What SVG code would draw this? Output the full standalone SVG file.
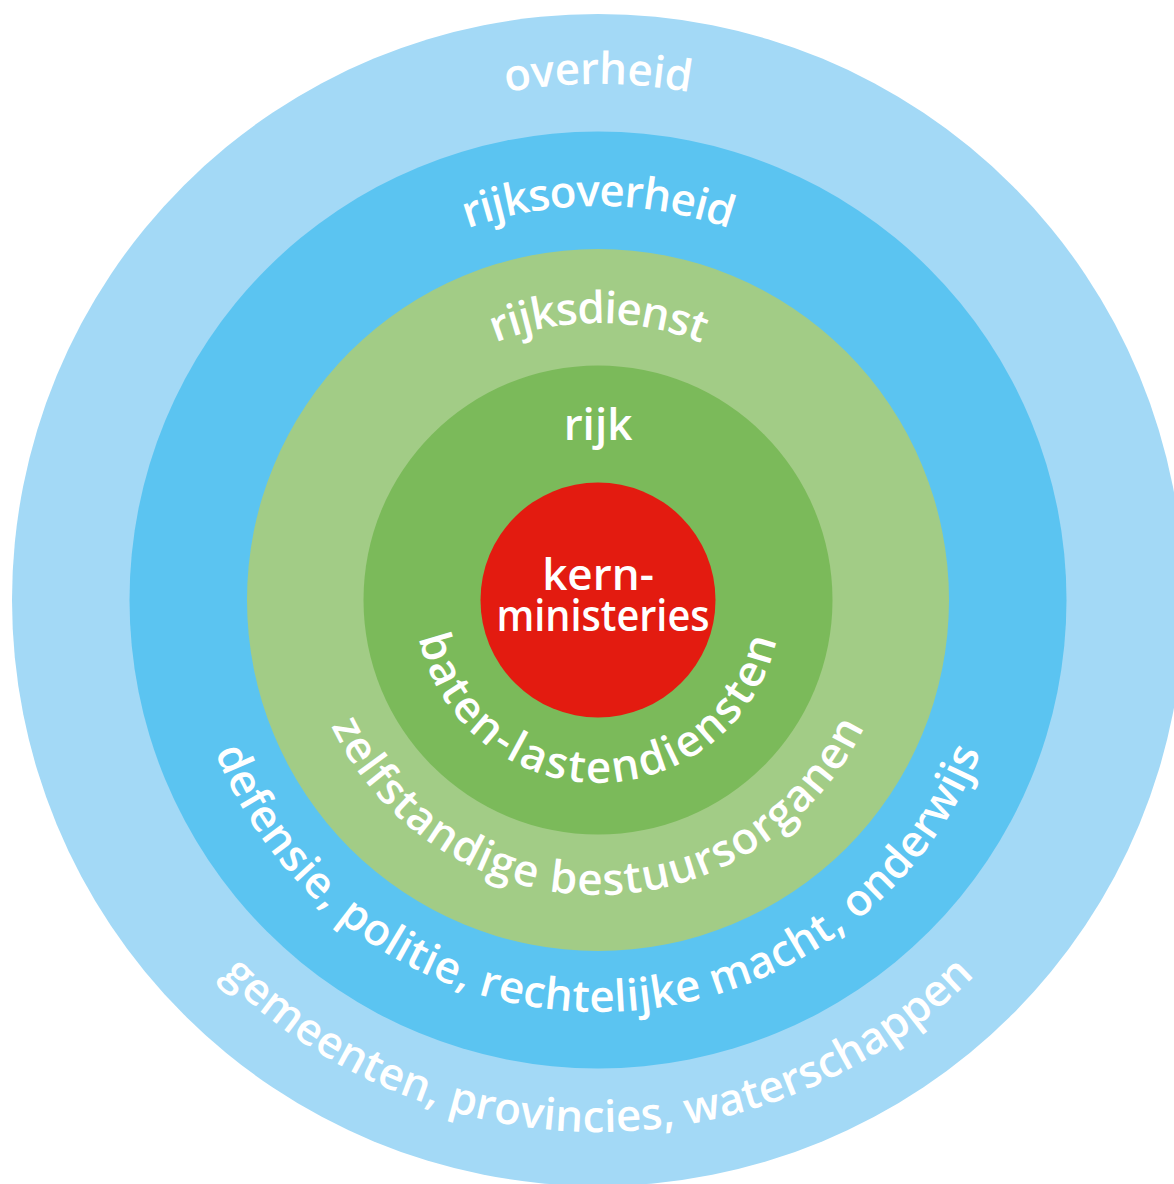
<svg xmlns="http://www.w3.org/2000/svg" xmlns:xlink="http://www.w3.org/1999/xlink" width="1174" height="1184" viewBox="0 0 1174 1184">
<style>
.lbl{font-family:"Open Sans","Noto Sans","Liberation Sans",sans-serif;font-weight:600;font-size:44px;fill:#ffffff;}
</style>
<defs>
<path id="pTop516" d="M 82 600 A 516 516 0 0 1 1114 600"/>
<path id="pTop394" d="M 204 600 A 394 394 0 0 1 992 600"/>
<path id="pTop277" d="M 321 600 A 277 277 0 0 1 875 600"/>
<path id="pBot183" d="M 415 600 A 183 183 0 0 0 781 600"/>
<path id="pBot295" d="M 303 600 A 295 295 0 0 0 893 600"/>
<path id="pBot412" d="M 186 600 A 412 412 0 0 0 1010 600"/>
<path id="pBot532" d="M 66 600 A 532 532 0 0 0 1130 600"/>
</defs>
<rect width="1174" height="1184" fill="#ffffff"/>
<g id="overheid">
<circle cx="598" cy="600" r="586" fill="#A3D9F6"/>
</g>
<g id="rijksoverheid">
<circle cx="598" cy="600" r="468.5" fill="#5BC4F1"/>
</g>
<g id="rijksdienst">
<circle cx="598" cy="600" r="351" fill="#A2CC86"/>
</g>
<g id="rijk">
<circle cx="598" cy="600" r="234.5" fill="#7BBA5A"/>
</g>
<g id="kernministeries">
<circle cx="598" cy="600" r="117.5" fill="#E31B10"/>
<text class="lbl" x="598" y="590" text-anchor="middle">kern-</text>
<text class="lbl" x="603" y="631" text-anchor="middle" textLength="213" lengthAdjust="spacingAndGlyphs">ministeries</text>
</g>
<g id="labels">
<text class="lbl" text-anchor="middle" letter-spacing="-0.4"><textPath xlink:href="#pTop516" href="#pTop516" startOffset="50%">overheid</textPath></text>
<text class="lbl" text-anchor="middle" letter-spacing="-0.9"><textPath xlink:href="#pTop394" href="#pTop394" startOffset="50%">rijksoverheid</textPath></text>
<text class="lbl" text-anchor="middle" letter-spacing="-1.1"><textPath xlink:href="#pTop277" href="#pTop277" startOffset="50%">rijksdienst</textPath></text>
<text class="lbl" x="598" y="440" text-anchor="middle">rijk</text>
<text class="lbl" text-anchor="middle" letter-spacing="2.3"><textPath xlink:href="#pBot183" href="#pBot183" startOffset="50%">baten-lastendiensten</textPath></text>
<text class="lbl" text-anchor="middle" letter-spacing="1.2"><textPath xlink:href="#pBot295" href="#pBot295" startOffset="50%">zelfstandige bestuursorganen</textPath></text>
<text class="lbl" text-anchor="middle" letter-spacing="0.4"><textPath xlink:href="#pBot412" href="#pBot412" startOffset="50%">defensie, politie, rechtelijke macht, onderwijs</textPath></text>
<text class="lbl" text-anchor="middle" letter-spacing="0.1"><textPath xlink:href="#pBot532" href="#pBot532" startOffset="50%">gemeenten, provincies, waterschappen</textPath></text>
</g>
</svg>
